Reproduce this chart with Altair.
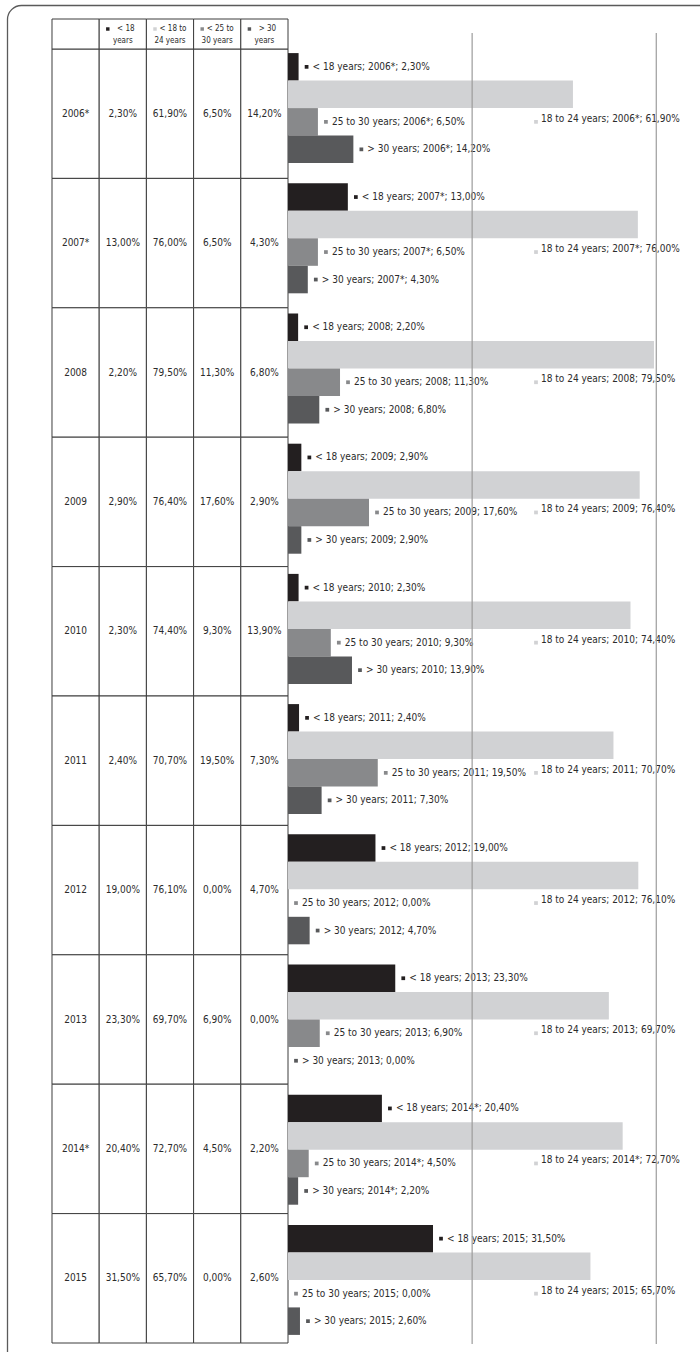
import altair as alt
import pandas as pd

# ---------------- data ----------------
years = ["2006*", "2007*", "2008", "2009", "2010", "2011", "2012", "2013", "2014*", "2015"]
under_18 = [2.3, 13.0, 2.2, 2.9, 2.3, 2.4, 19.0, 23.3, 20.4, 31.5]
from_18_to_24 = [61.9, 76.0, 79.5, 76.4, 74.4, 70.7, 76.1, 69.7, 72.7, 65.7]
from_25_to_30 = [6.5, 6.5, 11.3, 17.6, 9.3, 19.5, 0.0, 6.9, 4.5, 0.0]
over_30 = [14.2, 4.3, 6.8, 2.9, 13.9, 7.3, 4.7, 0.0, 2.2, 2.6]

series_keys = ["u18", "s18_24", "s25_30", "o30"]
series_names = ["< 18 years", "18 to 24 years", "25 to 30 years", "> 30 years"]
header_top = ["< 18", "< 18 to", "< 25 to", "> 30"]
header_bottom = ["years", "24 years", "30 years", "years"]
series_colors = ["#231f20", "#d1d2d4", "#88898b", "#58595b"]
grid_ticks = [40, 80]
table_columns = ["year"] + series_keys


def pct(v):
    return f"{v:.2f}".replace(".", ",") + "%"


values = dict(zip(series_keys, [under_18, from_18_to_24, from_25_to_30, over_30]))

rows = []
for i, yr in enumerate(years):
    for k, name in zip(series_keys, series_names):
        v = values[k][i]
        rows.append({"year": yr, "series": k, "value": v,
                     "label": f"{name}; {yr}; {pct(v)}",
                     "pos": "s25_30" if k == "s18_24" else k})
long_df = pd.DataFrame(rows)
main_labels = long_df[long_df["series"] != "s18_24"]
side_labels = long_df[long_df["series"] == "s18_24"]

cells = []
for i, yr in enumerate(years):
    cells.append({"year": yr, "col": "year", "text": yr})
    for k in series_keys:
        cells.append({"year": yr, "col": k, "text": pct(values[k][i])})
cell_df = pd.DataFrame(cells)

head_df = pd.DataFrame({"col": table_columns, "row": ["h"] * 5,
                        "top": [""] + header_top, "bottom": [""] + header_bottom,
                        "series": [""] + series_keys})
head_txt = head_df[head_df["series"] != ""]
grid_df = pd.DataFrame({"v": grid_ticks})

# ---------------- styles / scales ----------------
FONT = "DejaVu Sans Condensed, Liberation Sans Narrow, sans-serif"
TXT = "#2b2b2b"
LBL = 10
TBL = 10

col_scale = alt.Scale(type="band", domain=table_columns, range=[52, 288], paddingInner=0, paddingOuter=0)
row_scale = alt.Scale(type="band", domain=years, range=[49, 1343], paddingInner=0, paddingOuter=0)
head_scale = alt.Scale(type="band", domain=["h"], range=[19, 49], paddingInner=0, paddingOuter=0)
val_scale = alt.Scale(domain=[0, 89.5], range=[288, 700], nice=False)
band_scale = alt.Scale(type="band", domain=years, range=[43, 1345], paddingInner=0.155, paddingOuter=0.0775)
off_scale = alt.Scale(type="band", domain=series_keys, paddingInner=0, paddingOuter=0)
color_scale = alt.Scale(domain=series_keys, range=series_colors)

# ---------------- border ----------------
border = alt.Chart(pd.DataFrame({"k": [0]})).mark_rect(
    fill="white", fillOpacity=0, stroke="#5a5a5a", strokeWidth=1.3, cornerRadius=14, clip=True
).encode(x=alt.value(7.5), x2=alt.value(720), y=alt.value(5.5), y2=alt.value(1370))

# ---------------- table ----------------
tx = alt.X("col:N", scale=col_scale, axis=None)
table_rect = alt.Chart(cell_df).mark_rect(fill="white", stroke="#3d3d3d", strokeWidth=1).encode(
    x=tx, y=alt.Y("year:N", scale=row_scale, axis=None))
table_text = alt.Chart(cell_df).mark_text(font=FONT, fontSize=TBL, color=TXT).encode(
    x=tx, y=alt.Y("year:N", scale=row_scale, axis=None), text="text:N")
table_group = alt.layer(table_rect, table_text)

hy = alt.Y("row:N", scale=head_scale, axis=None)
head_rect = alt.Chart(head_df).mark_rect(fill="white", stroke="#3d3d3d", strokeWidth=1).encode(x=tx, y=hy)
head_top = alt.Chart(head_txt).mark_text(font=FONT, fontSize=8, color=TXT, dx=3, dy=-5).encode(
    x=tx, y=hy, text="top:N")
head_bottom = alt.Chart(head_txt).mark_text(font=FONT, fontSize=8, color=TXT, dy=7).encode(
    x=tx, y=hy, text="bottom:N")
head_sq = alt.Chart(head_txt).mark_square(size=12, opacity=1, xOffset=-15, yOffset=-5).encode(
    x=tx, y=hy, color=alt.Color("series:N", scale=color_scale, legend=None))
head_group = alt.layer(head_rect, head_top, head_bottom, head_sq)

# ---------------- bars ----------------
bx = alt.X("value:Q", scale=val_scale, axis=None)
by = alt.Y("year:N", scale=band_scale, axis=None)
bars = alt.Chart(long_df).mark_bar(strokeWidth=0).encode(
    x=bx, y=by,
    yOffset=alt.YOffset("series:N", scale=off_scale),
    color=alt.Color("series:N", scale=color_scale, legend=None))
labels = alt.Chart(main_labels).mark_text(font=FONT, fontSize=LBL, color=TXT, align="left",
                                          baseline="middle", dx=14).encode(
    x=bx, y=by, yOffset=alt.YOffset("series:N", scale=off_scale), text="label:N")
squares = alt.Chart(main_labels).mark_square(size=14, opacity=1, xOffset=8).encode(
    x=bx, y=by, yOffset=alt.YOffset("series:N", scale=off_scale),
    color=alt.Color("series:N", scale=color_scale, legend=None))
side_text = alt.Chart(side_labels).mark_text(font=FONT, fontSize=LBL, color=TXT, align="left",
                                             baseline="middle", dy=-3).encode(
    x=alt.value(541), y=by, yOffset=alt.YOffset("pos:N", scale=off_scale), text="label:N")
side_sq = alt.Chart(side_labels).mark_square(size=14, opacity=1, yOffset=-3).encode(
    x=alt.value(536), y=by, yOffset=alt.YOffset("pos:N", scale=off_scale),
    color=alt.Color("series:N", scale=color_scale, legend=None))
grid = alt.Chart(grid_df).mark_rule(color="#9c9c9c", strokeWidth=1.2).encode(
    x=alt.X("v:Q", scale=val_scale, axis=None), y=alt.value(33), y2=alt.value(1344))
bar_group = alt.layer(bars, labels, squares, side_text, side_sq, grid)

chart = alt.layer(border, table_group, head_group, bar_group).resolve_scale(
    x="independent", y="independent", color="independent", yOffset="independent"
).properties(
    width=700, height=1352, padding=0, autosize=alt.AutoSizeParams(type="none")
).configure_view(stroke=None)

chart.save("out.html", embed_options={"renderer": "svg", "actions": False})
